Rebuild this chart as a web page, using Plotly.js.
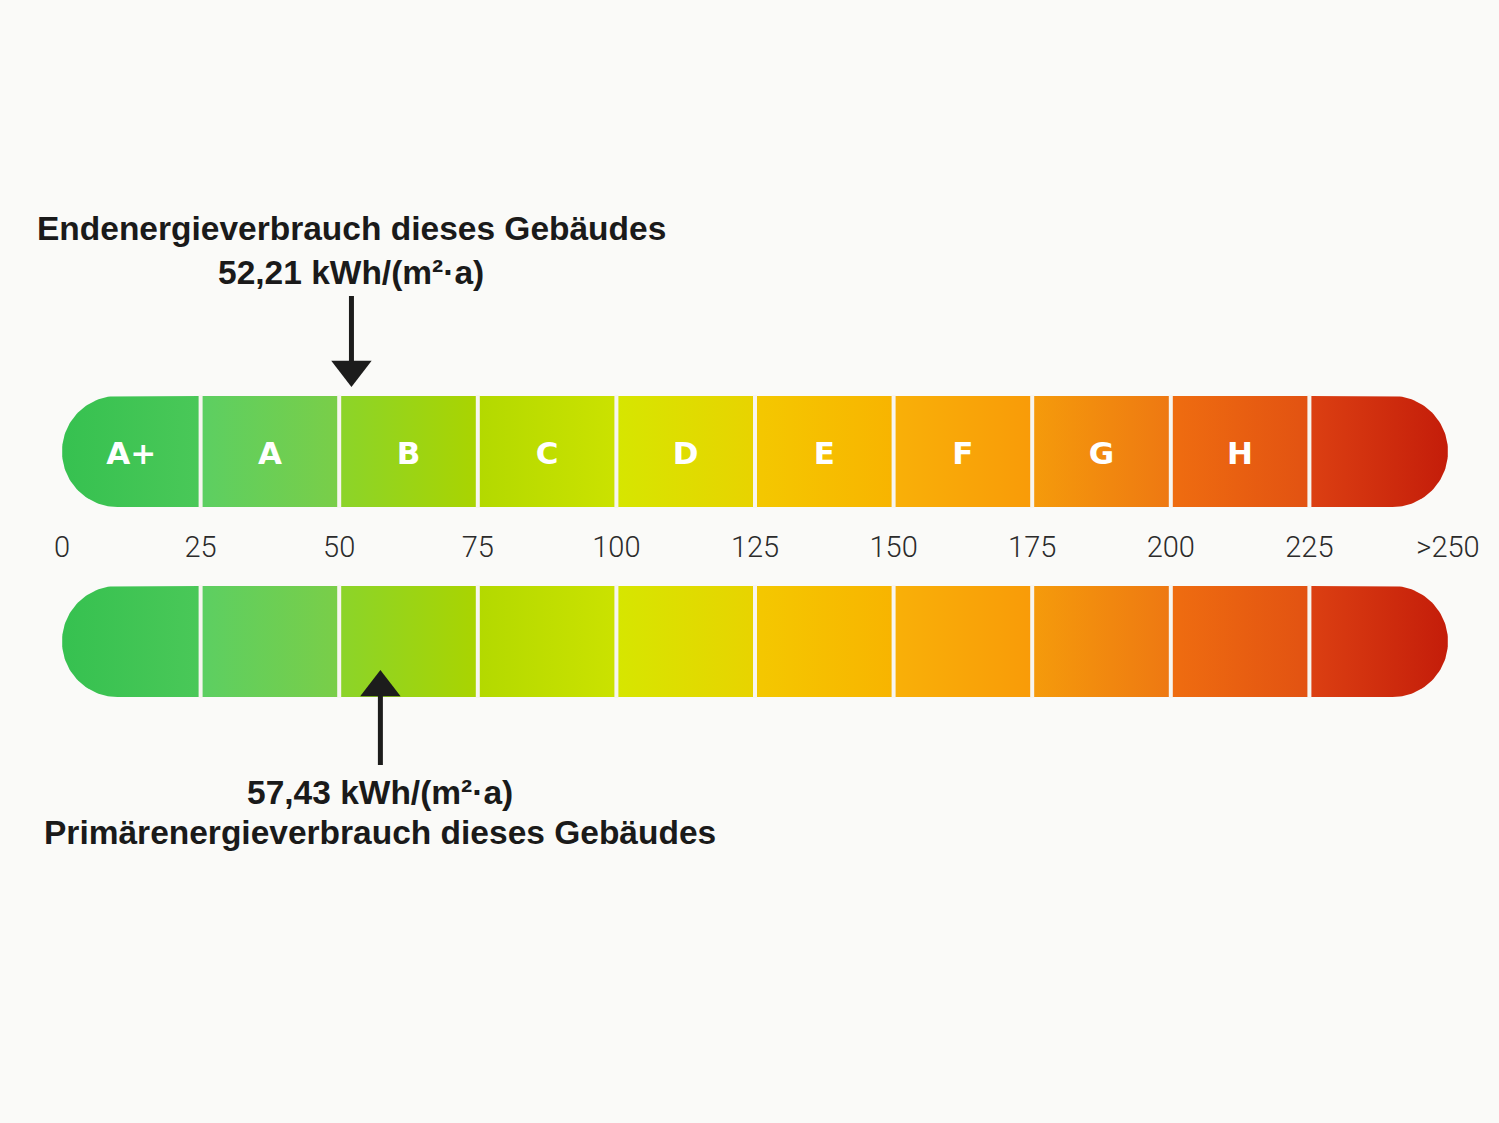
<!DOCTYPE html>
<html>
<head>
<meta charset="utf-8">
<script src="https://cdn.plot.ly/plotly-3.0.1.min.js"></script>
<style>
  html, body { margin: 0; padding: 0; background: #fafaf8; }
  #chart { width: 1499px; height: 1123px; }
</style>
</head>
<body>
<div id="chart"></div>
<script>
// ---- data ----
const classLabels = ['A+', 'A', 'B', 'C', 'D', 'E', 'F', 'G', 'H', ''];
const classBounds = [0, 25, 50, 75, 100, 125, 150, 175, 200, 225, 250];
const tickValues = [0, 25, 50, 75, 100, 125, 150, 175, 200, 225, 250];
const tickLabels = ['0', '25', '50', '75', '100', '125', '150', '175', '200', '225', '>250'];
const startColors = ['#36c150', '#5ccf62', '#8bd42a', '#b3d900', '#d6e600', '#f4c800', '#f9b008', '#f59b0b', '#ef6d10', '#dc4012'];
const endColors   = ['#4ac858', '#7ace48', '#aad400', '#cbe200', '#e8d300', '#f8b400', '#f99b08', '#ee7812', '#e25212', '#c41d0a'];
const endEnergyValue = 52.21;
const primaryEnergyValue = 57.43;
const endEnergyTitle = 'Endenergieverbrauch dieses Gebäudes';
const endEnergyText = '52,21 kWh/(m²·a)';
const primaryEnergyTitle = 'Primärenergieverbrauch dieses Gebäudes';
const primaryEnergyText = '57,43 kWh/(m²·a)';

// ---- layout geometry ----
const W = 1499, H = 1123;
const xMin = -11.183, xMax = 259.2;
const pxPerUnit = W / (xMax - xMin);
const bars = [{top: 396, bottom: 507}, {top: 586, bottom: 697}];
const bg = '#fafaf8';

const traces = [];

bars.forEach((bar, bi) => {
  const mid = (bar.top + bar.bottom) / 2;
  const r = (bar.bottom - bar.top) / 2;
  const rx = r / pxPerUnit;
  const n = classLabels.length;
  const steps = 72;
  for (let i = 0; i < n; i++) {
    const x0 = classBounds[i], x1 = classBounds[i + 1];
    let xs = [], ys = [];
    if (i === 0) {
      xs.push(x1); ys.push(bar.top);
      const cx = x0 + rx;
      for (let k = 0; k <= steps; k++) {
        const t = -Math.PI / 2 + Math.PI * k / steps;
        xs.push(cx - rx * Math.cos(t)); ys.push(mid + r * Math.sin(t));
      }
      xs.push(x1); ys.push(bar.bottom);
    } else if (i === n - 1) {
      xs.push(x0); ys.push(bar.top);
      const cx = x1 - rx;
      for (let k = 0; k <= steps; k++) {
        const t = -Math.PI / 2 + Math.PI * k / steps;
        xs.push(cx + rx * Math.cos(t)); ys.push(mid + r * Math.sin(t));
      }
      xs.push(x0); ys.push(bar.bottom);
    } else {
      xs = [x0, x1, x1, x0]; ys = [bar.top, bar.top, bar.bottom, bar.bottom];
    }
    xs.push(xs[0]); ys.push(ys[0]);
    traces.push({
      type: 'scatter', mode: 'lines', x: xs, y: ys,
      fill: 'toself', line: {width: 0, color: 'rgba(0,0,0,0)'},
      fillgradient: {type: 'horizontal', colorscale: [[0, startColors[i]], [1, endColors[i]]]},
      hoverinfo: 'skip', showlegend: false
    });
  }
  // separators
  for (let i = 1; i < n; i++) {
    traces.push({
      type: 'scatter', mode: 'lines',
      x: [classBounds[i], classBounds[i]], y: [bar.top - 1, bar.bottom + 1],
      line: {width: 4, color: '#f7f5f0'}, hoverinfo: 'skip', showlegend: false
    });
  }
});

// class letters on top bar
const centers = classLabels.map((_, i) => (classBounds[i] + classBounds[i + 1]) / 2);
traces.push({
  type: 'scatter', mode: 'text',
  x: centers, y: classLabels.map(() => (bars[0].top + bars[0].bottom) / 2 + 5),
  text: classLabels, textposition: 'middle center',
  textfont: {family: 'DejaVu Sans, Verdana, sans-serif', size: 31, color: '#ffffff', weight: 'bold'},
  hoverinfo: 'skip', showlegend: false
});

// arrows
const arrowColor = '#1c1c1c';
const triSize = 35;
const triR = triSize / 2;
// top arrow (pointing down onto top bar)
traces.push({type: 'scatter', mode: 'lines', x: [endEnergyValue, endEnergyValue], y: [296, 364],
  line: {width: 5, color: arrowColor}, hoverinfo: 'skip', showlegend: false});
traces.push({type: 'scatter', mode: 'markers', x: [endEnergyValue], y: [387 - triR],
  marker: {symbol: 'triangle-down', size: triSize, color: arrowColor, line: {width: 0}},
  hoverinfo: 'skip', showlegend: false});
// bottom arrow (pointing up onto bottom bar)
traces.push({type: 'scatter', mode: 'lines', x: [primaryEnergyValue, primaryEnergyValue], y: [692, 765],
  line: {width: 5, color: arrowColor}, hoverinfo: 'skip', showlegend: false});
traces.push({type: 'scatter', mode: 'markers', x: [primaryEnergyValue], y: [670 + triR],
  marker: {symbol: 'triangle-up', size: triSize, color: arrowColor, line: {width: 0}},
  hoverinfo: 'skip', showlegend: false});

const titleFont = {family: 'Liberation Sans, Arial, sans-serif', size: 33.5, color: '#1a1a1a', weight: 'bold'};
const annotations = [
  {x: endEnergyValue, y: 228, xref: 'x', yref: 'y', text: endEnergyTitle, showarrow: false, font: titleFont, xanchor: 'center', yanchor: 'middle'},
  {x: endEnergyValue, y: 272, xref: 'x', yref: 'y', text: endEnergyText, showarrow: false, font: titleFont, xanchor: 'center', yanchor: 'middle'},
  {x: primaryEnergyValue, y: 792, xref: 'x', yref: 'y', text: primaryEnergyText, showarrow: false, font: titleFont, xanchor: 'center', yanchor: 'middle'},
  {x: primaryEnergyValue, y: 832, xref: 'x', yref: 'y', text: primaryEnergyTitle, showarrow: false, font: titleFont, xanchor: 'center', yanchor: 'middle'}
];

const layout = {
  width: W, height: H,
  margin: {l: 0, r: 0, t: 0, b: 0},
  paper_bgcolor: bg, plot_bgcolor: bg,
  showlegend: false,
  hovermode: false,
  xaxis: {
    range: [xMin, xMax], fixedrange: true,
    showgrid: false, zeroline: false, showline: false,
    tickmode: 'array', tickvals: tickValues, ticktext: tickLabels,
    ticks: '', anchor: 'free', position: 1 - 527 / H,
    tickfont: {family: 'Roboto, Liberation Sans, sans-serif', size: 29, color: '#2b2b2b', weight: 300}
  },
  yaxis: {
    range: [H, 0], fixedrange: true, visible: false
  },
  annotations: annotations
};

Plotly.newPlot('chart', traces, layout, {displayModeBar: false, staticPlot: true});
</script>
</body>
</html>
